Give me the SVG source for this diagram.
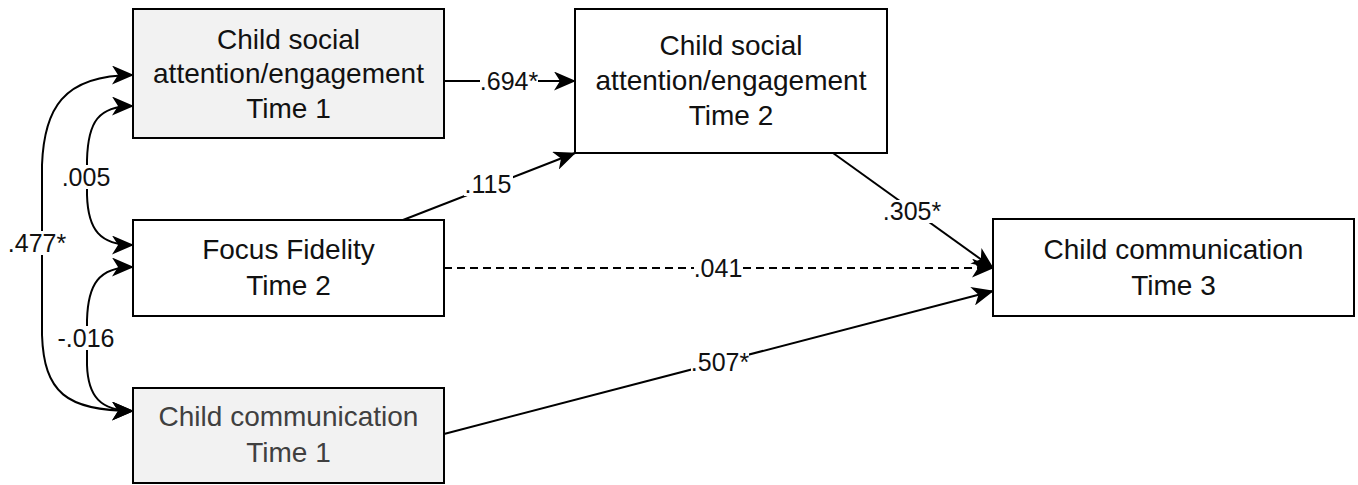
<svg xmlns="http://www.w3.org/2000/svg" width="1358" height="485" viewBox="0 0 1358 485">
<defs>
<marker id="arr" markerUnits="strokeWidth" viewBox="0 0 22 19" markerWidth="11" markerHeight="9.5" refX="21" refY="9.5" orient="auto-start-reverse">
<path d="M0,0 L22,9.5 L0,19 L6,9.5 z" fill="#000"/>
</marker>
</defs>
<style>
.box{stroke:#000;stroke-width:2;}
.grey{fill:#f2f2f2;}
.white{fill:#fff;}
.nt{font-family:"Liberation Sans",Arial,sans-serif;font-size:28px;fill:#111;text-anchor:middle;}
.nt.dim{fill:#404040;}
.edge{fill:none;stroke:#000;stroke-width:2;marker-end:url(#arr);}
.bi{marker-start:url(#arr);}
.dash{stroke-dasharray:8 5;}
.lbl{font-family:"Liberation Sans",Arial,sans-serif;font-size:25px;fill:#111;text-anchor:middle;}
.lbg{fill:#fff;}
</style>
<rect width="1358" height="485" fill="#fff"/>
<g id="connectors">
<path class="edge" d="M444,81 L575,81"/>
<path class="edge" d="M403,220 L575,153"/>
<path class="edge" d="M833,153 L993,268"/>
<path class="edge dash" d="M444,268 L993,268"/>
<path class="edge" d="M444,434 L993,291"/>
<path class="edge bi" d="M133,75 C62,75 44,110 42,165 L42,335 C44,392 66,411 133,411"/>
<path class="edge bi" d="M133,106 C98,106 88,122 87,160 L87,195 C88,230 100,245 133,245"/>
<path class="edge bi" d="M133,267 C98,267 88,285 87,320 L87,365 C88,396 100,411 133,411"/>
<g id="labels">
<rect class="lbg" x="480" y="69" width="58" height="24"/>
<text class="lbl" x="509" y="90">.694*</text>
<rect class="lbg" x="464" y="174" width="49" height="22"/>
<text class="lbl" x="488" y="193">.115</text>
<rect class="lbg" x="883" y="200" width="58" height="23"/>
<text class="lbl" x="912" y="220">.305*</text>
<rect class="lbg" x="694" y="257" width="49" height="23"/>
<text class="lbl" x="718" y="277">.041</text>
<rect class="lbg" x="691" y="351" width="58" height="23"/>
<text class="lbl" x="720" y="371">.507*</text>
<rect class="lbg" x="9" y="231" width="58" height="24"/>
<text class="lbl" x="37" y="252">.477*</text>
<rect class="lbg" x="62" y="165" width="49" height="24"/>
<text class="lbl" x="86" y="186">.005</text>
<rect class="lbg" x="57" y="326" width="58" height="24"/>
<text class="lbl" x="86" y="347">-.016</text>
</g>
</g>
<g id="node-social-t1">
<rect class="box grey" x="133" y="9" width="311" height="129"/>
<text class="nt" x="288.5" y="49">Child social</text>
<text class="nt" x="288.5" y="83">attention/engagement</text>
<text class="nt" x="288.5" y="118">Time 1</text>
</g>
<g id="node-fidelity-t2">
<rect class="box white" x="133" y="220" width="311" height="96"/>
<text class="nt" x="288.5" y="259">Focus Fidelity</text>
<text class="nt" x="288.5" y="295">Time 2</text>
</g>
<g id="node-comm-t1">
<rect class="box grey" x="133" y="388" width="311" height="95"/>
<text class="nt dim" x="288.5" y="426">Child communication</text>
<text class="nt dim" x="288.5" y="462">Time 1</text>
</g>
<g id="node-social-t2">
<rect class="box white" x="575" y="9" width="312" height="144"/>
<text class="nt" x="731" y="55">Child social</text>
<text class="nt" x="731" y="90">attention/engagement</text>
<text class="nt" x="731" y="125">Time 2</text>
</g>
<g id="node-comm-t3">
<rect class="box white" x="993" y="219" width="361" height="97"/>
<text class="nt" x="1173.5" y="259">Child communication</text>
<text class="nt" x="1173.5" y="295">Time 3</text>
</g>
</svg>
